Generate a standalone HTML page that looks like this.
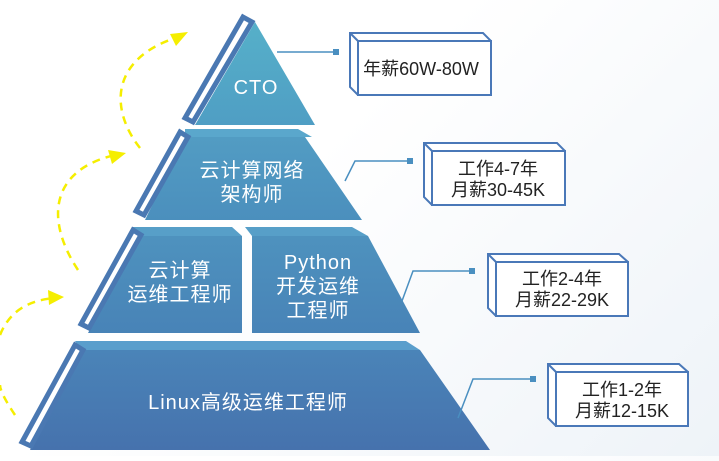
<!DOCTYPE html>
<html><head><meta charset="utf-8"><style>
body{margin:0;width:719px;height:456px;overflow:hidden;background:linear-gradient(135deg,#fff 40%,#eef3f8 100%);font-family:"Liberation Sans","Noto Sans CJK SC",sans-serif}
</style></head><body>
<svg width="719" height="456" viewBox="0 0 719 456" xmlns="http://www.w3.org/2000/svg" font-family="Liberation Sans, Noto Sans CJK SC, sans-serif">
<defs>
<linearGradient id="g1" x1="0" y1="0" x2="0" y2="1"><stop offset="0" stop-color="#56b0c9"/><stop offset="1" stop-color="#4f9ec4"/></linearGradient>
<linearGradient id="g2" x1="0" y1="0" x2="0" y2="1"><stop offset="0" stop-color="#529cc3"/><stop offset="1" stop-color="#4b8fbd"/></linearGradient>
<linearGradient id="g3" x1="0" y1="0" x2="0" y2="1"><stop offset="0" stop-color="#4e92be"/><stop offset="1" stop-color="#4883b7"/></linearGradient>
<linearGradient id="g4" x1="0" y1="0" x2="0" y2="1"><stop offset="0" stop-color="#4a84b8"/><stop offset="1" stop-color="#4672ad"/></linearGradient>
</defs>
<g fill="none" stroke="#f5ee00" stroke-width="2.5" stroke-dasharray="8,6">
<path d="M140,148 C110,110 110,60 175,38"/>
<path d="M78,270 C45,220 50,170 115,155"/>
<path d="M0,335 C10,310 30,300 55,298"/>
<path d="M15,415 C5,400 0,390 0,385"/>
</g>
<g fill="#f5ee00">
<polygon points="188,32 170,34 176,46"/>
<polygon points="126,153 108,150 112,164"/>
<polygon points="64,297 48,290 49,305"/>
</g>
<polygon points="255,22 315,125 195,125" fill="url(#g1)"/>
<polygon points="185,137 305,137 362,220 145,220" fill="url(#g2)"/>
<polygon points="185,129 298,129 312,137 185,137" fill="#5aa7cc"/>
<polygon points="140,236 242,236 242,333 88,333" fill="url(#g3)"/>
<polygon points="132,227 232,227 242,236 140,236" fill="#579fc8"/>
<polygon points="252,236 368,236 420,333 252,333" fill="url(#g3)"/>
<polygon points="245,227 352,227 368,236 252,236" fill="#579fc8"/>
<polygon points="80,350 420,350 490,450 30,450" fill="url(#g4)"/>
<polygon points="75,341 406,341 420,350 80,350" fill="#5a9ecc"/>
<g fill="#fff" stroke="#4a78b2" stroke-width="5">
<polygon points="243,17 252,22 193,122 185,118"/>
<polygon points="180,132 188,137 144,215 136,211"/>
<polygon points="133,230 141,235 89,328 81,324"/>
<polygon points="75,345 83,350 31,446 22,442"/>
</g>
<g fill="#fff" font-size="20" text-anchor="middle" letter-spacing="1">
<text x="256" y="94">CTO</text>
<text x="252" y="177">云计算网络</text>
<text x="252" y="201">架构师</text>
<text x="180" y="277">云计算</text>
<text x="180" y="301">运维工程师</text>
<text x="318" y="269">Python</text>
<text x="318" y="293">开发运维</text>
<text x="318" y="317">工程师</text>
<text x="248" y="409">Linux高级运维工程师</text>
</g>
<g fill="none" stroke="#4a8fc0" stroke-width="1.5">
<path d="M277,52 H336"/>
<path d="M345,181 L355,161 H410"/>
<path d="M402,301 L413,271 H472"/>
<path d="M458,418 L473,379 H533"/>
</g>
<g fill="#4a8fc0"><rect x="333" y="49" width="6" height="6"/><rect x="407" y="158" width="6" height="6"/><rect x="469" y="268" width="6" height="6"/><rect x="530" y="376" width="6" height="6"/></g>
<g fill="#fff" stroke="#4a78b8" stroke-width="2">
<g transform="translate(350,33)"><polygon points="0,0 133,0 141,8 141,62 8,62 0,54"/><rect x="8" y="8" width="133" height="54"/><line x1="0" y1="0" x2="8" y2="8"/></g>
<g transform="translate(424,143)"><polygon points="0,0 133,0 141,8 141,62 8,62 0,54"/><rect x="8" y="8" width="133" height="54"/><line x1="0" y1="0" x2="8" y2="8"/></g>
<g transform="translate(488,254)"><polygon points="0,0 131,0 140,8 140,62 8,62 0,54"/><rect x="8" y="8" width="132" height="54"/><line x1="0" y1="0" x2="8" y2="8"/></g>
<g transform="translate(548,364)"><polygon points="0,0 131,0 140,8 140,62 8,62 0,54"/><rect x="8" y="8" width="132" height="54"/><line x1="0" y1="0" x2="8" y2="8"/></g>
</g>
<g fill="#222" font-size="18" text-anchor="middle">
<text x="421" y="75">年薪60W-80W</text>
<text x="498" y="175">工作4-7年</text>
<text x="498" y="196">月薪30-45K</text>
<text x="562" y="285">工作2-4年</text>
<text x="562" y="306">月薪22-29K</text>
<text x="622" y="396">工作1-2年</text>
<text x="622" y="417">月薪12-15K</text>
</g>
</svg>
</body></html>
